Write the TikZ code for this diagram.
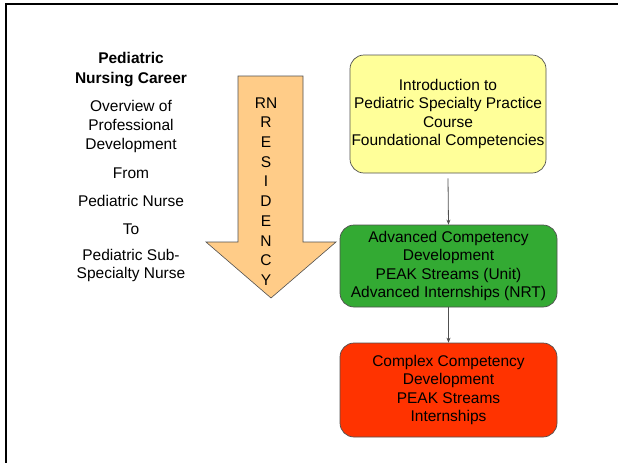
\documentclass[tikz,border=0pt]{standalone}
\usepackage{fontspec}
\setmainfont{Liberation Sans}
\usetikzlibrary{arrows.meta}
\definecolor{boxyellow}{HTML}{FFFF99}
\definecolor{boxgreen}{HTML}{33AA33}
\definecolor{boxred}{HTML}{FF3300}
\definecolor{arroworange}{HTML}{FFCC88}
\definecolor{edgegray}{HTML}{505050}
\begin{document}
\begin{tikzpicture}[x=1pt,y=-1pt,
  txt/.style={font=\fontsize{15.5}{18.6}\selectfont, align=center, inner sep=0pt},
  stage/.style={txt, draw=edgegray, line width=0.7pt, rounded corners=14pt},
  link/.style={draw=edgegray, line width=0.8pt, -{Stealth[length=5pt,width=4pt]}}]
\useasboundingbox (0,0) rectangle (618,463);
\fill[white] (0,0) rectangle (618,463);
% frame
\draw[line width=2pt] (5,4) -- (618,4);
\draw[line width=2pt] (6,4) -- (6,463);
% left text
\node[txt, font=\fontsize{15.5}{20}\selectfont\bfseries] (title) at (131,70) {Pediatric\\Nursing Career};
\node[txt] (over) at (131,126.5) {Overview of\\Professional\\Development};
\node[txt] (from) at (131,173) {From};
\node[txt] (pn) at (131,201) {Pediatric Nurse};
\node[txt] (to) at (131,229) {To};
\node[txt, font=\fontsize{15.5}{17.5}\selectfont] (psn) at (131,265.5) {Pediatric Sub-\\Specialty Nurse};
% big arrow
\coordinate (a1) at (238,76);
\coordinate (a2) at (303,76);
\coordinate (a3) at (303,242);
\coordinate (a4) at (336,242);
\coordinate (a5) at (271,298);
\coordinate (a6) at (206,242);
\coordinate (a7) at (238,242);
\filldraw[fill=arroworange, draw=edgegray, line width=0.6pt] (a1) -- (a2) -- (a3) -- (a4) -- (a5) -- (a6) -- (a7) -- cycle;
\node[txt, font=\fontsize{15.5}{19.7}\selectfont] (res) at (266,191.5) {RN\\R\\E\\S\\I\\D\\E\\N\\C\\Y};
% stages
\node[stage, fill=boxyellow, minimum width=196pt, minimum height=118pt] (intro) at (448,114) {Introduction to\\Pediatric Specialty Practice\\Course\\Foundational Competencies};
\node[stage, fill=boxgreen, minimum width=217pt, minimum height=82pt] (adv) at (448.5,266) {Advanced Competency\\Development\\PEAK Streams (Unit)\\Advanced Internships (NRT)};
\node[stage, fill=boxred, minimum width=217pt, minimum height=94pt] (comp) at (448.5,390) {Complex Competency\\Development\\PEAK Streams\\Internships};
\draw[link] ([yshift=-5pt]intro.south) -- (adv.north);
\draw[link] (adv.south) -- (comp.north);
\end{tikzpicture}
\end{document}
